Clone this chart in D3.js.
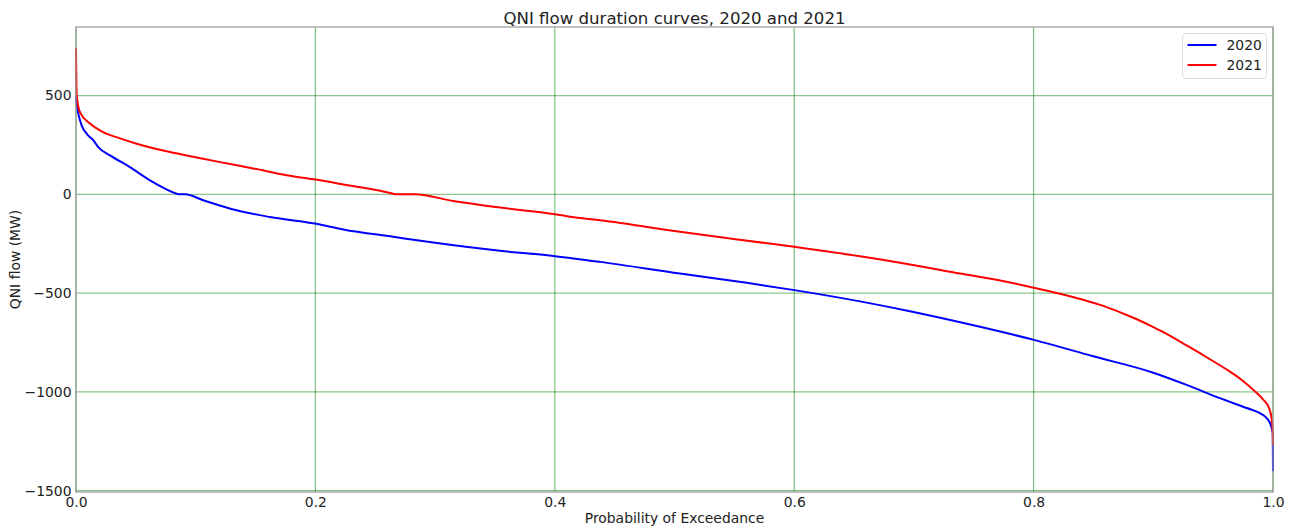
<!DOCTYPE html>
<html>
<head>
<meta charset="utf-8">
<script src="https://cdn.jsdelivr.net/npm/d3@7"></script>
<style>
  html, body { margin: 0; padding: 0; background: #fff; }
  svg { display: block; font-family: "DejaVu Sans", sans-serif; }
</style>
</head>
<body>
<svg id="chart" width="1296" height="531"></svg>
<script>
// Probability of exceedance (fraction of hours) and QNI flow (MW), sorted descending
const p2020 = [0, 0.0006, 0.002, 0.0048, 0.009, 0.0145, 0.0186, 0.0284, 0.045, 0.0618, 0.0841, 0.0855, 0.0912,
  0.1063, 0.1342, 0.1621, 0.2038, 0.2233, 0.2651, 0.2985, 0.3542, 0.4002, 0.4378, 0.5046, 0.5603, 0.6001,
  0.655, 0.6967, 0.7525, 0.8003, 0.8499, 0.9, 0.9279, 0.9557, 0.978, 0.9891, 0.9947, 0.9981, 0.9998, 1.0];
const q2020 = [495, 458, 407, 348, 306, 273, 239, 197, 138, 71, 3, 0, 0,
  -30, -81, -115, -153, -178, -215, -244, -286, -313, -342, -401, -448, -485,
  -542, -592, -667, -737, -820, -903, -965, -1032, -1082, -1108, -1133, -1167, -1209, -1402];

const p2021 = [0, 0.0006, 0.0033, 0.0117, 0.0226, 0.0368, 0.0507, 0.0785, 0.0925, 0.1203, 0.148, 0.176,
  0.2038, 0.2233, 0.2651, 0.267, 0.2832, 0.3152, 0.3542, 0.4002, 0.421, 0.4378, 0.5046, 0.6001, 0.655,
  0.6967, 0.7385, 0.7803, 0.8003, 0.8221, 0.8582, 0.8833, 0.8889, 0.9, 0.9084, 0.9279, 0.9474, 0.9613,
  0.9752, 0.9836, 0.9919, 0.9967, 0.999, 0.9998, 1.0];
const q2021 = [740, 500, 416, 358, 315, 283, 256, 214, 197, 163, 131, 96,
  71, 50, 3, 0, 0, -34, -67, -101, -120, -131, -190, -266, -314,
  -355, -401, -446, -473, -503, -565, -625, -640, -672, -698, -765, -835, -887,
  -946, -990, -1040, -1082, -1141, -1209, -1268];

const xTicks = [0.0, 0.2, 0.4, 0.6, 0.8, 1.0];
const yTicks = [-1500, -1000, -500, 0, 500];
const seriesNames = ["2020", "2021"];
const seriesColors = ["#0000ff", "#ff0000"];

const W = 1296, H = 531;
const margin = { left: 76, right: 23, top: 27, bottom: 39 };
const iw = W - margin.left - margin.right;
const ih = H - margin.top - margin.bottom;
const FS = 13.9;

const svg = d3.select("#chart");
const g = svg.append("g").attr("transform", `translate(${margin.left},${margin.top})`);

const x = d3.scaleLinear().domain([0, 1]).range([0, iw]);
const y = d3.scaleLinear().domain([-1507, 847]).range([ih, 0]);

// grid
g.append("g").selectAll("line").data(xTicks).join("line")
  .attr("x1", d => x(d)).attr("x2", d => x(d)).attr("y1", 0).attr("y2", ih)
  .attr("stroke", "green").attr("stroke-opacity", 0.5).attr("stroke-width", 1.2);
g.append("g").selectAll("line").data(yTicks).join("line")
  .attr("y1", d => y(d)).attr("y2", d => y(d)).attr("x1", 0).attr("x2", iw)
  .attr("stroke", "green").attr("stroke-opacity", 0.45).attr("stroke-width", 1.2);

// axes (labels only, no tick marks)
const fmtY = d => (d < 0 ? "\u2212" + Math.abs(d) : String(d));
const xAxis = g.append("g").attr("transform", `translate(0,${ih})`)
  .call(d3.axisBottom(x).tickValues(xTicks).tickFormat(d3.format(".1f")).tickSize(0).tickPadding(4.5));
const yAxis = g.append("g")
  .call(d3.axisLeft(y).tickValues(yTicks).tickFormat(fmtY).tickSize(0).tickPadding(4.5));
[xAxis, yAxis].forEach(a => {
  a.select(".domain").remove();
  a.selectAll("text").attr("font-family", "DejaVu Sans, sans-serif").attr("font-size", FS).attr("fill", "#222");
});
xAxis.selectAll("text").attr("dy", "0.75em");

// series
const line = d3.line().x(d => x(d[0])).y(d => y(d[1])).curve(d3.curveMonotoneX);
const series = [
  d3.zip(p2020, q2020),
  d3.zip(p2021, q2021)
];
series.forEach((pts, i) => {
  g.append("path").datum(pts)
    .attr("fill", "none").attr("stroke", seriesColors[i]).attr("stroke-width", 2)
    .attr("stroke-linejoin", "round").attr("d", line);
});

// frame
g.append("rect").attr("x", 0).attr("y", 0).attr("width", iw).attr("height", ih)
  .attr("fill", "none").attr("stroke", "#999").attr("stroke-width", 1.2);

// title & axis labels
svg.append("text").attr("x", margin.left + iw / 2).attr("y", 24)
  .attr("text-anchor", "middle").attr("font-size", 16.6).attr("fill", "#222")
  .text("QNI flow duration curves, 2020 and 2021");
svg.append("text").attr("x", margin.left + iw / 2).attr("y", 523)
  .attr("text-anchor", "middle").attr("font-size", FS).attr("fill", "#222")
  .text("Probability of Exceedance");
svg.append("text").attr("transform", `translate(20,${margin.top + ih / 2}) rotate(-90)`)
  .attr("text-anchor", "middle").attr("font-size", FS).attr("fill", "#222")
  .text("QNI flow (MW)");

// legend
const lg = svg.append("g").attr("transform", "translate(1182.5,33.5)");
lg.append("rect").attr("width", 84).attr("height", 45).attr("rx", 3)
  .attr("fill", "#fff").attr("fill-opacity", 0.8).attr("stroke", "#ddd");
seriesNames.forEach((name, i) => {
  const yy = 11.5 + i * 20;
  lg.append("line").attr("x1", 5).attr("x2", 34).attr("y1", yy).attr("y2", yy)
    .attr("stroke", seriesColors[i]).attr("stroke-width", 2);
  lg.append("text").attr("x", 44).attr("y", yy + 5).attr("font-size", FS).attr("fill", "#222").text(name);
});
</script>
</body>
</html>
